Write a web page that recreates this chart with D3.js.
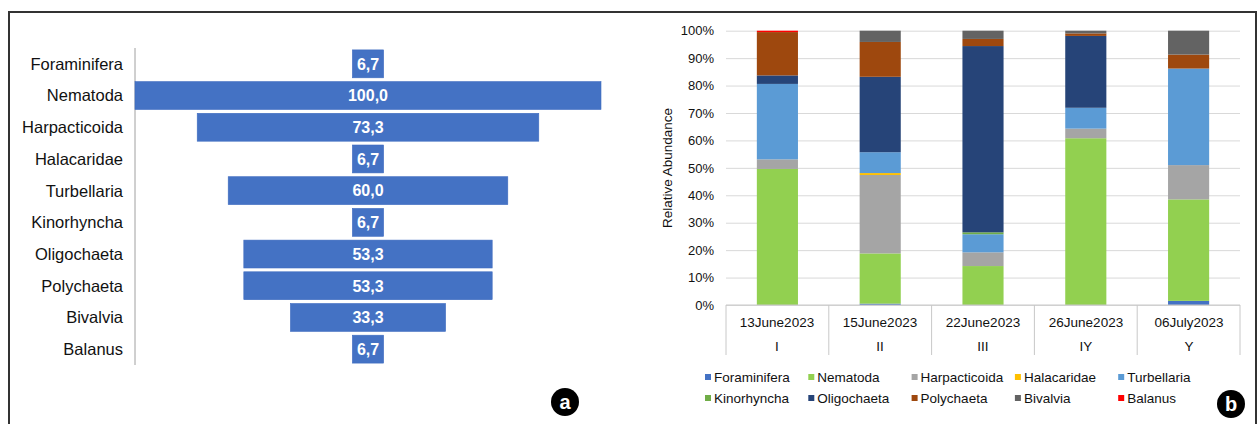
<!DOCTYPE html>
<html>
<head>
<meta charset="utf-8">
<script src="https://cdn.jsdelivr.net/npm/d3@7"></script>
<style>
  html, body { margin: 0; padding: 0; background: #fff; }
  svg { display: block; font-family: "Liberation Sans", Arial, sans-serif; }
</style>
</head>
<body>
<svg id="chart" width="1258" height="424"></svg>
<script>
// ---------- Data ----------
const taxa = ["Foraminifera", "Nematoda", "Harpacticoida", "Halacaridae", "Turbellaria",
              "Kinorhyncha", "Oligochaeta", "Polychaeta", "Bivalvia", "Balanus"];
const frequency = [6.7, 100.0, 73.3, 6.7, 60.0, 6.7, 53.3, 53.3, 33.3, 6.7];

const sampleDates = ["13June2023", "15June2023", "22June2023", "26June2023", "06July2023"];
const sampleStations = ["I", "II", "III", "IY", "Y"];

// relative abundance (%) per taxon, one value per sample (I..Y)
const foraminifera  = [0.0, 0.5, 0.0, 0.0, 1.5];
const nematoda      = [49.6, 18.3, 14.2, 60.8, 37.0];
const harpacticoida = [3.5, 28.6, 5.0, 3.5, 12.5];
const halacaridae   = [0.0, 0.7, 0.0, 0.0, 0.0];
const turbellaria   = [27.5, 7.6, 6.6, 7.6, 35.2];
const kinorhyncha   = [0.0, 0.0, 0.7, 0.0, 0.0];
const oligochaeta   = [3.1, 27.5, 67.9, 26.2, 0.0];
const polychaeta    = [15.8, 12.7, 2.6, 0.9, 5.1];
const bivalvia      = [0.0, 4.1, 3.0, 1.0, 8.7];
const balanus       = [0.5, 0.0, 0.0, 0.0, 0.0];

const yTicks = [0, 10, 20, 30, 40, 50, 60, 70, 80, 90, 100];
const colors = ["#4472C4", "#92D050", "#A5A5A5", "#FFC000", "#5B9BD5",
                "#70AD47", "#264478", "#9E480E", "#636363", "#FF0000"];

// ---------- Setup ----------
const svg = d3.select("#chart");
const FONT = "'Liberation Sans', Arial, sans-serif";

// outer frame
svg.append("path")
  .attr("d", "M9,430 L9,12 L1256,12 L1256,430")
  .attr("fill", "none").attr("stroke", "#333").attr("stroke-width", 2);

// ---------- Panel a: centred bar (funnel) chart ----------
const aCenter = 368;
const ya = d3.scaleBand().domain(taxa).range([48, 365]).paddingInner(0.12).paddingOuter(0.06);
const wa = d3.scaleLinear().domain([0, 100]).range([0, 466]);

const gA = svg.append("g");
gA.append("line")
  .attr("x1", 135).attr("x2", 135).attr("y1", 48).attr("y2", 365)
  .attr("stroke", "#a0a0a0").attr("stroke-width", 1);

const aData = taxa.map((t, i) => ({ t, v: frequency[i] }));
gA.selectAll("rect.fb").data(aData).enter().append("rect")
  .attr("class", "fb")
  .attr("x", d => aCenter - wa(d.v) / 2)
  .attr("width", d => wa(d.v))
  .attr("y", d => ya(d.t))
  .attr("height", ya.bandwidth())
  .attr("fill", "#4472C4")
  .attr("stroke", "#3f6cc0").attr("stroke-width", 0.6);

gA.selectAll("text.fv").data(aData).enter().append("text")
  .attr("class", "fv")
  .attr("x", aCenter)
  .attr("y", d => ya(d.t) + ya.bandwidth() / 2)
  .attr("dy", "0.36em")
  .attr("text-anchor", "middle")
  .attr("fill", "#fff")
  .attr("font-weight", "bold")
  .attr("font-size", "16px")
  .text(d => d.v.toFixed(1).replace(".", ","));

gA.selectAll("text.fl").data(aData).enter().append("text")
  .attr("class", "fl")
  .attr("x", 123)
  .attr("y", d => ya(d.t) + ya.bandwidth() / 2)
  .attr("dy", "0.36em")
  .attr("text-anchor", "end")
  .attr("fill", "#111")
  .attr("font-size", "16.5px")
  .text(d => d.t);

// badge a
svg.append("circle").attr("cx", 565).attr("cy", 402).attr("r", 14).attr("fill", "#000");
svg.append("text").attr("x", 565).attr("y", 402).attr("dy", "0.36em")
  .attr("text-anchor", "middle").attr("fill", "#fff")
  .attr("font-weight", "bold").attr("font-size", "20px").text("a");

// ---------- Panel b: 100% stacked columns ----------
const series = [foraminifera, nematoda, harpacticoida, halacaridae, turbellaria,
                kinorhyncha, oligochaeta, polychaeta, bivalvia, balanus];
const rows = sampleDates.map((d, i) => {
  const r = { date: d, station: sampleStations[i] };
  taxa.forEach((t, k) => { r[t] = series[k][i]; });
  return r;
});

const xb = d3.scaleBand().domain(sampleDates).range([726, 1240]).paddingInner(0.6).paddingOuter(0.3);
const yb = d3.scaleLinear().domain([0, 100]).range([305, 30.7]);
const color = d3.scaleOrdinal().domain(taxa).range(colors);

const gB = svg.append("g");

// gridlines + tick labels via axis
const yAxis = d3.axisLeft(yb).tickValues(yTicks).tickFormat(d => d + "%")
  .tickSize(-(1240 - 726)).tickPadding(12);
const gy = gB.append("g").attr("transform", "translate(726,0)").call(yAxis);
gy.select(".domain").remove();
gy.selectAll(".tick line").attr("stroke", "#d9d9d9").attr("stroke-width", 1);
gy.selectAll(".tick text").attr("fill", "#111").attr("font-size", "13px").attr("font-family", FONT);

// axis title
gB.append("text")
  .attr("transform", "translate(667,168) rotate(-90)")
  .attr("dy", "0.36em")
  .attr("text-anchor", "middle")
  .attr("fill", "#111")
  .attr("font-size", "13.5px")
  .text("Relative Abundance");

// stacked bars
const stack = d3.stack().keys(taxa)(rows);
gB.selectAll("g.layer").data(stack).enter().append("g")
  .attr("class", "layer")
  .attr("fill", d => color(d.key))
  .selectAll("rect").data(d => d).enter().append("rect")
  .attr("x", d => xb(d.data.date))
  .attr("width", xb.bandwidth())
  .attr("y", d => yb(d[1]))
  .attr("height", d => Math.max(0, yb(d[0]) - yb(d[1])));

// category axis (two-level)
gB.append("line").attr("x1", 726).attr("x2", 1240).attr("y1", 305).attr("y2", 305)
  .attr("stroke", "#c8c8c8").attr("stroke-width", 1);
const sepX = [726].concat(sampleDates.slice(1).map(d => xb(d) - (xb.step() - xb.bandwidth()) / 2)).concat([1240]);
gB.selectAll("line.sep").data(sepX).enter().append("line")
  .attr("class", "sep")
  .attr("x1", d => d).attr("x2", d => d)
  .attr("y1", 305).attr("y2", 355)
  .attr("stroke", "#c8c8c8").attr("stroke-width", 1);

gB.selectAll("text.date").data(rows).enter().append("text")
  .attr("class", "date")
  .attr("x", d => Math.round(xb(d.date) + xb.bandwidth() / 2))
  .attr("y", 327)
  .attr("text-anchor", "middle")
  .attr("fill", "#111")
  .attr("font-size", "13.5px")
  .text(d => d.date);
gB.selectAll("text.stn").data(rows).enter().append("text")
  .attr("class", "stn")
  .attr("x", d => Math.round(xb(d.date) + xb.bandwidth() / 2))
  .attr("y", 351)
  .attr("text-anchor", "middle")
  .attr("fill", "#111")
  .attr("font-size", "13.5px")
  .text(d => d.station);

// legend
const lg = gB.selectAll("g.lg").data(taxa).enter().append("g")
  .attr("class", "lg")
  .attr("transform", (d, i) => `translate(${705 + (i % 5) * 103.3},${i < 5 ? 377 : 398})`);
lg.append("rect").attr("x", 0).attr("y", -3).attr("width", 6).attr("height", 6)
  .attr("fill", d => color(d));
lg.append("text").attr("x", 9).attr("y", 0).attr("dy", "0.36em")
  .attr("fill", "#111").attr("font-size", "13.5px").text(d => d);

// badge b
svg.append("circle").attr("cx", 1231).attr("cy", 404).attr("r", 14).attr("fill", "#000");
svg.append("text").attr("x", 1231).attr("y", 404).attr("dy", "0.36em")
  .attr("text-anchor", "middle").attr("fill", "#fff")
  .attr("font-weight", "bold").attr("font-size", "20px").text("b");
</script>
</body>
</html>
